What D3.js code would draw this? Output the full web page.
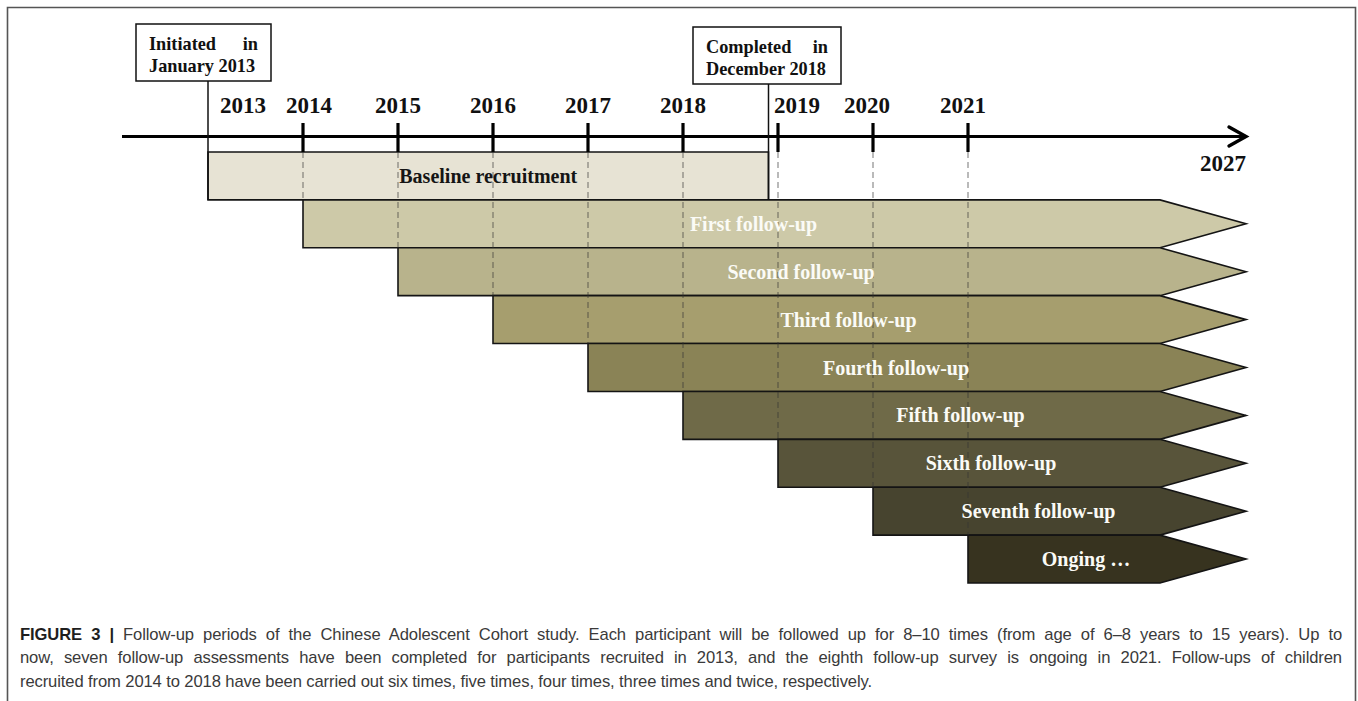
<!DOCTYPE html>
<html>
<head>
<meta charset="utf-8">
<script src="https://cdn.jsdelivr.net/npm/d3@7"></script>
<style>
  html, body { margin: 0; padding: 0; background: #fff; }
  svg { display: block; }
</style>
</head>
<body>
<div id="chart"></div>
<script>
// ---------------- DATA ----------------
const tickYears   = [2014, 2015, 2016, 2017, 2018, 2019, 2020, 2021];
const labelYears  = ["2013", "2014", "2015", "2016", "2017", "2018", "2019", "2020", "2021"];
const endYear     = 2027;
const endLabel    = "2027";
const phases      = ["Baseline recruitment", "First follow-up", "Second follow-up", "Third follow-up",
                     "Fourth follow-up", "Fifth follow-up", "Sixth follow-up", "Seventh follow-up", "Onging …"];
const phaseStart  = [2013, 2014, 2015, 2016, 2017, 2018, 2019, 2020, 2021];
const phaseEnd    = [2018.9, 2027, 2027, 2027, 2027, 2027, 2027, 2027, 2027];
const phaseColors = ["#e7e3d4", "#cdc9a8", "#b8b38c", "#a69e6e", "#8a8356", "#6f6a48", "#58543a", "#47442f", "#37331f"];
const notes       = [
  { lines: ["Initiated|in", "January 2013"], year: 2013 },
  { lines: ["Completed|in", "December 2018"], year: 2018.9 }
];
const captionBold = "FIGURE 3 |";
const captionLines = [
  " Follow-up periods of the Chinese Adolescent Cohort study. Each participant will be followed up for 8–10 times (from age of 6–8 years to 15 years). Up to",
  "now, seven follow-up assessments have been completed for participants recruited in 2013, and the eighth follow-up survey is ongoing in 2021. Follow-ups of children",
  "recruited from 2014 to 2018 have been carried out six times, five times, four times, three times and twice, respectively."
];

// ---------------- LAYOUT ----------------
const W = 1358, H = 701;
const serif = "'Liberation Serif', 'Times New Roman', serif";
const sans = "'Liberation Sans', Arial, Helvetica, sans-serif";

const svg = d3.select("#chart").append("svg").attr("width", W).attr("height", H);

// frame
svg.append("path").attr("d", `M7.5,701 V7.5 H1355.5 V701`).attr("fill", "none")
  .attr("stroke", "#555").attr("stroke-width", 1.6);

const x = d3.scaleLinear().domain([2013, 2021, endYear]).range([208, 968, 1246]);
const y = d3.scaleBand().domain(phases).range([152, 583]).paddingInner(0).paddingOuter(0);

const axisY = 136.5;
const headLen = 86;   // length of arrow-shaped bar tip

// bars
const bars = svg.append("g");
phases.forEach((p, i) => {
  const x0 = x(phaseStart[i]), x1 = x(phaseEnd[i]);
  const y0 = y(p), h = y.bandwidth(), y1 = y0 + h;
  let d;
  if (phaseEnd[i] === endYear) {
    const xb = x1 - headLen;
    d = `M${x0},${y0} H${xb} L${x1},${y0 + h / 2} L${xb},${y1} H${x0} Z`;
  } else {
    d = `M${x0},${y0} H${x1} V${y1} H${x0} Z`;
  }
  bars.append("path").attr("d", d).attr("fill", phaseColors[i])
    .attr("stroke", "#141414").attr("stroke-width", 1.6).attr("stroke-linejoin", "miter");
});

// dashed guide lines from axis down to the start of each follow-up
const guides = svg.append("g");
phases.forEach((p, i) => {
  if (i === 0) return;
  const xx = x(phaseStart[i]);
  guides.append("line").attr("x1", xx).attr("x2", xx).attr("y1", 152).attr("y2", y(p))
    .attr("stroke", "#333").attr("stroke-opacity", 0.45).attr("stroke-width", 1.5)
    .attr("stroke-dasharray", "6,4");
});

// bar labels
const labelNudge = { "Fifth follow-up": 17 };
phases.forEach((p, i) => {
  const x0 = x(phaseStart[i]), x1 = x(phaseEnd[i]);
  const cy = y(p) + y.bandwidth() / 2;
  const cx = phaseEnd[i] === endYear ? (x0 + x1) / 2 - 21 + (labelNudge[p] || 0) : (x0 + x1) / 2;
  svg.append("text").attr("x", cx).attr("y", cy + 7)
    .attr("text-anchor", "middle")
    .attr("font-family", serif).attr("font-weight", "bold").attr("font-size", 20)
    .attr("fill", i === 0 ? "#151515" : "#fbfbf6")
    .text(p);
});

// axis line + arrow
const axisG = svg.append("g");
axisG.append("line").attr("x1", x(2013) - 86).attr("x2", x(endYear) - 2)
  .attr("y1", axisY).attr("y2", axisY).attr("stroke", "#000").attr("stroke-width", 3.2);
axisG.append("path")
  .attr("d", `M${x(endYear) - 17},${axisY - 9.5} L${x(endYear)},${axisY} L${x(endYear) - 17},${axisY + 9.5}`)
  .attr("fill", "none").attr("stroke", "#000").attr("stroke-width", 3.4)
  .attr("stroke-linecap", "round").attr("stroke-linejoin", "miter");

// ticks
tickYears.forEach(t => {
  axisG.append("line").attr("x1", x(t)).attr("x2", x(t)).attr("y1", 123).attr("y2", 152)
    .attr("stroke", "#000").attr("stroke-width", 3.2);
});

// year labels
const yearNudge = { "2013": 35, "2019": 19, "2020": -6, "2021": -5, "2014": 6 };
labelYears.forEach(l => {
  svg.append("text").attr("x", x(+l) + (yearNudge[l] || 0)).attr("y", 113)
    .attr("text-anchor", "middle")
    .attr("font-family", serif).attr("font-weight", "bold").attr("font-size", 23)
    .attr("fill", "#111").text(l);
});
svg.append("text").attr("x", x(endYear)).attr("y", 171).attr("text-anchor", "end")
  .attr("font-family", serif).attr("font-weight", "bold").attr("font-size", 23)
  .attr("fill", "#111").text(endLabel);

// note boxes with connectors
const boxDims = [{ left: 136, top: 24, w: 135, h: 57 }, { left: 693, top: 27, w: 148, h: 57 }];
notes.forEach((n, i) => {
  const b = boxDims[i];
  const cx = x(n.year);
  const g = svg.append("g");
  g.append("line").attr("x1", cx).attr("x2", cx).attr("y1", b.top + b.h).attr("y2", y(phases[0]) + y.bandwidth())
    .attr("stroke", "#111").attr("stroke-width", 1.5);
  g.append("rect").attr("x", b.left).attr("y", b.top).attr("width", b.w).attr("height", b.h)
    .attr("fill", "#fff").attr("stroke", "#111").attr("stroke-width", 1.5);
  const padL = 13, padR = 13;
  n.lines.forEach((ln, k) => {
    const by = b.top + 26 + k * 21.5;
    const parts = ln.split("|");
    const fs = 18.3;
    if (parts.length === 2) {
      g.append("text").attr("x", b.left + padL).attr("y", by)
        .attr("font-family", serif).attr("font-weight", "bold").attr("font-size", fs).attr("fill", "#111").text(parts[0]);
      g.append("text").attr("x", b.left + b.w - padR).attr("y", by).attr("text-anchor", "end")
        .attr("font-family", serif).attr("font-weight", "bold").attr("font-size", fs).attr("fill", "#111").text(parts[1]);
    } else {
      g.append("text").attr("x", b.left + padL).attr("y", by)
        .attr("font-family", serif).attr("font-weight", "bold").attr("font-size", fs).attr("fill", "#111").text(ln);
    }
  });
});

// caption
const capX = 20, capRight = 1342, lastLineRight = 872, capFS = 16.6;
const capBase = [639.5, 663, 686.5];
// fit letter spacing so the (unjustified) last line spans as in the figure
const probe = svg.append("text").attr("font-family", sans).attr("font-size", capFS).text(captionLines[2]);
const capLS = ((lastLineRight - capX) - probe.node().getComputedTextLength()) / captionLines[2].length;
probe.remove();
captionLines.forEach((ln, k) => {
  const t = svg.append("text").attr("x", capX).attr("y", capBase[k])
    .attr("font-family", sans).attr("font-size", capFS).attr("fill", "#3a3a3a")
    .style("letter-spacing", capLS + "px");
  let full = ln;
  if (k === 0) {
    t.append("tspan").attr("font-weight", "bold").attr("fill", "#1e1e1e").text(captionBold);
    full = captionBold + ln;
  }
  t.append("tspan").text(ln);
  if (k < captionLines.length - 1) {
    const natural = t.node().getComputedTextLength();
    const spaces = (full.match(/ /g) || []).length;
    const ws = (capRight - capX - natural) / spaces;
    t.style("word-spacing", ws + "px");
  }
});
</script>
</body>
</html>
